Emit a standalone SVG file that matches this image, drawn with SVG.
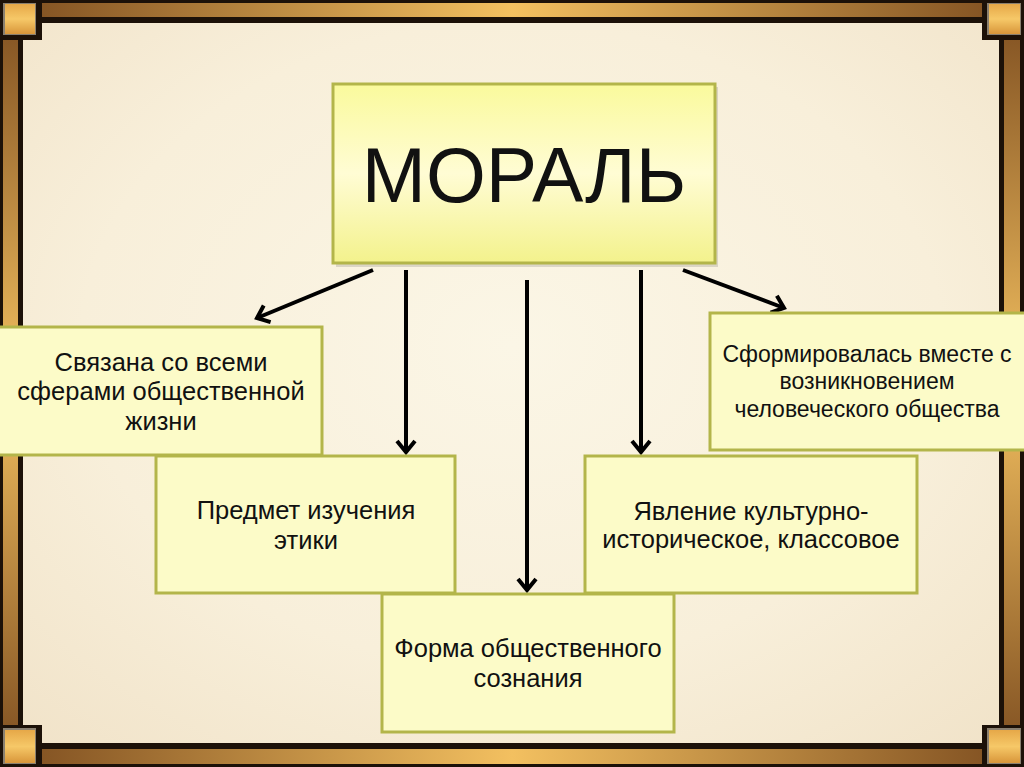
<svg xmlns="http://www.w3.org/2000/svg" width="1024" height="767" viewBox="0 0 1024 767">
<defs>
<style>
.box{fill:#fcfbc8;stroke:#b3b54a;stroke-width:3}
.t{font-family:"Liberation Sans",Arial,sans-serif;fill:#111;text-anchor:middle}
.c{stroke:#000;stroke-width:4;fill:none;marker-end:url(#ah)}
.dark{fill:#1c1108}
</style>
<radialGradient id="bg" cx="0.5" cy="0.45" r="0.7">
<stop offset="0" stop-color="#fbf6e6"/>
<stop offset="0.6" stop-color="#f8efda"/>
<stop offset="1" stop-color="#f1e3c9"/>
</radialGradient>
<linearGradient id="hbar" x1="0" y1="0" x2="1" y2="0">
<stop offset="0" stop-color="#7c4c1f"/>
<stop offset="0.5" stop-color="#f3c060"/>
<stop offset="1" stop-color="#7c4c1f"/>
</linearGradient>
<linearGradient id="vbar" x1="0" y1="0" x2="0" y2="1">
<stop offset="0" stop-color="#7c4c1f"/>
<stop offset="0.5" stop-color="#f3c060"/>
<stop offset="1" stop-color="#7c4c1f"/>
</linearGradient>
<linearGradient id="corner" x1="0" y1="0" x2="0" y2="1">
<stop offset="0" stop-color="#e6a848"/>
<stop offset="0.5" stop-color="#f6c868"/>
<stop offset="1" stop-color="#d8963a"/>
</linearGradient>
<linearGradient id="main" x1="0" y1="0" x2="0" y2="1">
<stop offset="0" stop-color="#fafa9c"/>
<stop offset="0.5" stop-color="#fffcd4"/>
<stop offset="1" stop-color="#f3f28c"/>
</linearGradient>
<marker id="ah" markerUnits="userSpaceOnUse" markerWidth="30" markerHeight="30" viewBox="-15 -15 30 30" refX="0" refY="0" orient="auto" overflow="visible">
<path d="M-11,-9 L0,0 L-11,9" fill="none" stroke="#000" stroke-width="4" stroke-linejoin="miter"/>
</marker>
</defs>

<rect x="0" y="0" width="1024" height="767" fill="url(#bg)"/>

<g id="frame">
<rect class="dark" x="0" y="0" width="1024" height="23"/>
<rect class="dark" x="0" y="743" width="1024" height="24"/>
<rect class="dark" x="0" y="0" width="23" height="767"/>
<rect class="dark" x="999" y="0" width="25" height="767"/>
<rect x="0" y="3" width="1024" height="14" fill="url(#hbar)"/>
<rect x="0" y="749" width="1024" height="15" fill="url(#hbar)"/>
<rect x="3" y="0" width="15" height="767" fill="url(#vbar)"/>
<rect x="1004" y="0" width="16" height="767" fill="url(#vbar)"/>
<rect class="dark" x="0" y="0" width="42" height="40"/>
<rect x="3" y="3" width="33" height="32" fill="#8a8070"/>
<rect x="5" y="4" width="30" height="30" fill="url(#corner)"/>
<rect class="dark" x="982" y="0" width="42" height="40"/>
<rect x="987" y="3" width="34" height="32" fill="#8a8070"/>
<rect x="989" y="4" width="31" height="30" fill="url(#corner)"/>
<rect class="dark" x="0" y="725" width="42" height="42"/>
<rect x="3" y="728" width="33" height="36" fill="#8a8070"/>
<rect x="5" y="730" width="30" height="33" fill="url(#corner)"/>
<rect class="dark" x="982" y="725" width="42" height="42"/>
<rect x="987" y="728" width="34" height="36" fill="#8a8070"/>
<rect x="989" y="730" width="31" height="33" fill="url(#corner)"/>
</g>

<g id="connectors">
<line class="c" x1="373" y1="270" x2="257" y2="318"/>
<line class="c" x1="406" y1="270" x2="406" y2="452"/>
<line class="c" x1="527" y1="280" x2="527" y2="590"/>
<line class="c" x1="641" y1="270" x2="641" y2="452"/>
<line class="c" x1="683" y1="270" x2="784" y2="308"/>
</g>

<g id="moral">
<rect x="336" y="87" width="382" height="180" fill="#000" opacity="0.12"/>
<rect x="333" y="84" width="382" height="179" fill="url(#main)" stroke="#b3b54a" stroke-width="3"/>
<text class="t" x="524" y="202" font-size="77">МОРАЛЬ</text>
</g>

<g id="n1">
<rect class="box" x="-3" y="327" width="325" height="128"/>
<text class="t" font-size="25.5"><tspan x="161" y="371">Связана со всеми</tspan><tspan x="161" y="400">сферами общественной</tspan><tspan x="161" y="430">жизни</tspan></text>
</g>

<g id="n2">
<rect class="box" x="156" y="456" width="299" height="137"/>
<text class="t" font-size="25.5"><tspan x="306" y="519">Предмет изучения</tspan><tspan x="306" y="549">этики</tspan></text>
</g>

<g id="n3">
<rect class="box" x="710" y="313" width="320" height="137"/>
<text class="t" font-size="23"><tspan x="867" y="362">Сформировалась вместе с</tspan><tspan x="867" y="389">возникновением</tspan><tspan x="867" y="417">человеческого общества</tspan></text>
</g>

<g id="n4">
<rect class="box" x="585" y="456" width="332" height="137"/>
<text class="t" font-size="25.5"><tspan x="751" y="520">Явление культурно-</tspan><tspan x="751" y="548">историческое, классовое</tspan></text>
</g>

<g id="n5">
<rect class="box" x="382" y="594" width="292" height="138"/>
<text class="t" font-size="25.5"><tspan x="528" y="657">Форма общественного</tspan><tspan x="528" y="687">сознания</tspan></text>
</g>
</svg>
